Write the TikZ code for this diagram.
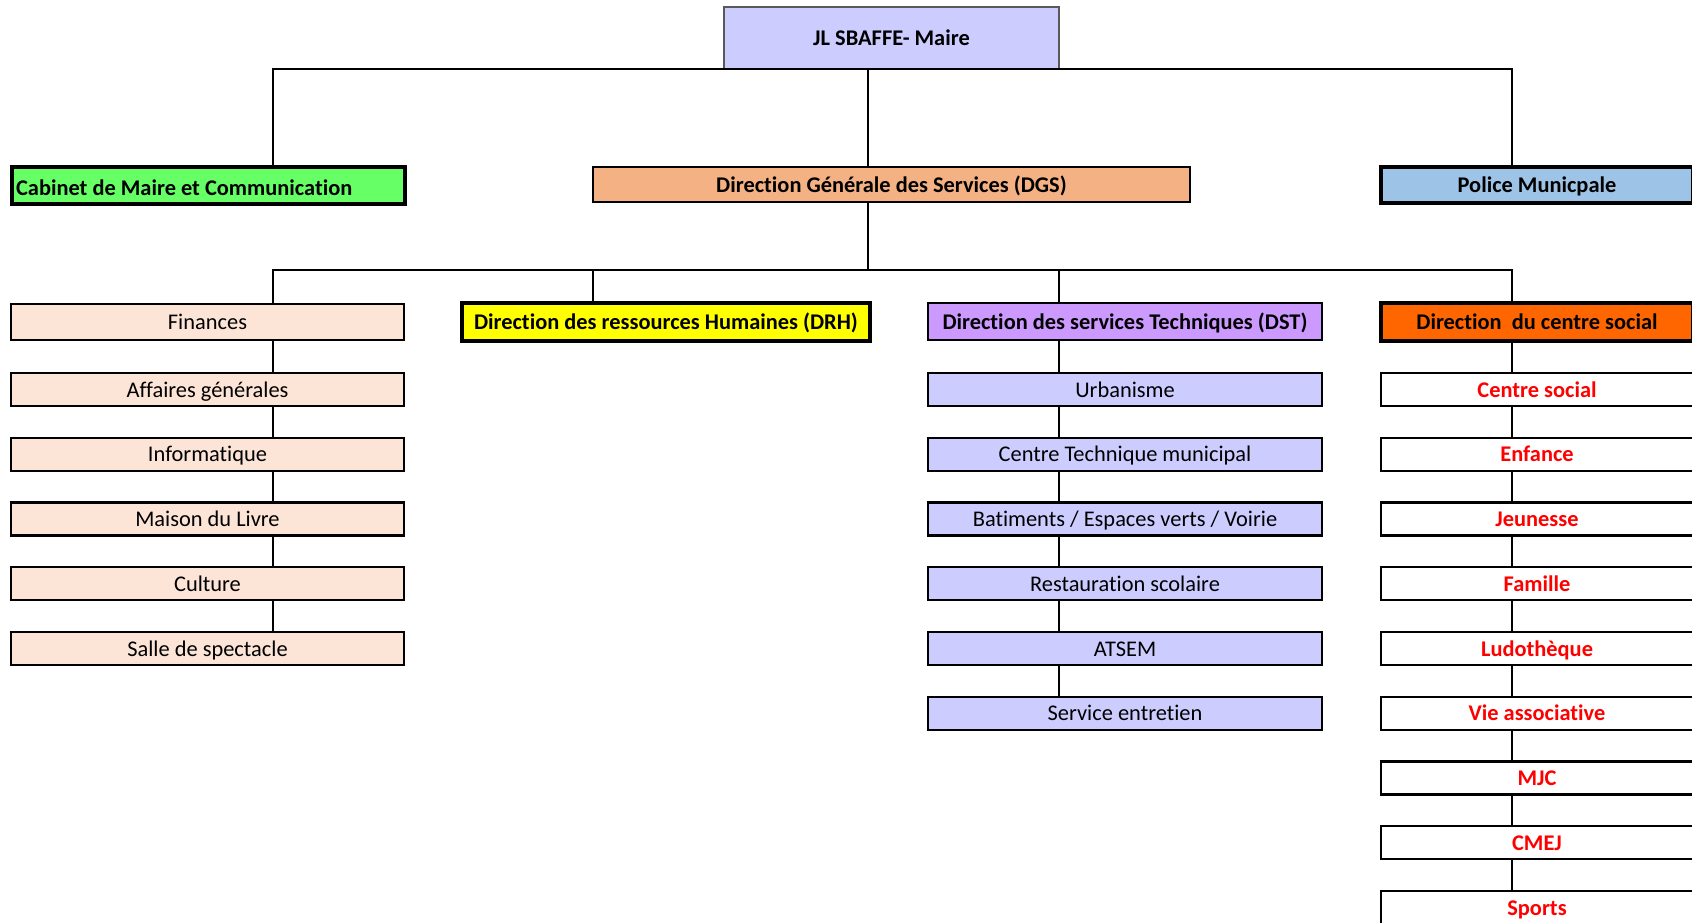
\documentclass[tikz,border=0pt]{standalone}
\usepackage{fontspec}
\setmainfont{Carlito}[Ligatures=NoCommon]
\definecolor{cMayor}{HTML}{CCCCFF}
\definecolor{cCab}{HTML}{66FF66}
\definecolor{cDGS}{HTML}{F4B183}
\definecolor{cPol}{HTML}{9DC3E6}
\definecolor{cFin}{HTML}{FCE4D6}
\definecolor{cDRH}{HTML}{FFFF00}
\definecolor{cDST}{HTML}{CC99FF}
\definecolor{cDSTc}{HTML}{CCCCFF}
\definecolor{cCSD}{HTML}{FF6600}
\definecolor{cRed}{HTML}{FF0000}
\begin{document}
\begin{tikzpicture}[x=1pt,y=-1pt,
  base/.style={rectangle, draw=black, inner sep=0pt, font=\fontsize{22.4}{26}\selectfont},
  mayorbox/.style={base, draw=black!65, line width=1.4pt, fill=cMayor, font=\fontsize{22.4}{26}\selectfont\bfseries},
  headbox/.style={base, line width=3.2pt, text height=20.5pt, text depth=5pt, font=\fontsize{22.4}{26}\selectfont\bfseries},
  midbox/.style={base, line width=2.6pt, text height=20.5pt, text depth=5pt, font=\fontsize{22.4}{26}\selectfont\bfseries},
  leafbox/.style={base, line width=2.2pt, text height=19.6pt, text depth=4.6pt},
  redleaf/.style={base, line width=2.2pt, text height=19.6pt, text depth=4.6pt, fill=white, text=cRed, font=\fontsize{22.4}{26}\selectfont\bfseries},
  conn/.style={draw=black, line width=2.2pt},
  topconn/.style={draw=black, line width=2.8pt}]
\useasboundingbox (0,0) rectangle (1692,922);
\clip (0,0) rectangle (1692,922);
\fill[white] (0,0) rectangle (1692,922);

% bus x positions
\coordinate (xa) at (273,0);
\coordinate (xb) at (593,0);
\coordinate (xc) at (868,0);
\coordinate (xd) at (1059,0);
\coordinate (xe) at (1512,0);
\coordinate (bus1) at (868,69);
\coordinate (bus2) at (868,270);

% top level
\node[mayorbox, minimum width=335pt, minimum height=62pt] (mayor) at (891.5,38) {JL SBAFFE- Maire};
\node[headbox, fill=cCab, minimum width=393pt, minimum height=37pt,
  label={[anchor=west, inner sep=0pt, xshift=5.5pt, yshift=-2pt, font=\fontsize{22.4}{26}\selectfont\bfseries]west:Cabinet de Maire et Communication}] (cab) at (208.5,185.5) {};
\node[midbox, fill=cDGS, minimum width=597pt, minimum height=35pt] (dgs) at (891.5,184.5) {Direction Générale des Services (DGS)};
\node[headbox, fill=cPol, minimum width=312pt, minimum height=36pt] (pol) at (1537,185) {Police Municpale};

% second level
\node[leafbox, fill=cFin, minimum width=393pt, minimum height=36pt] (fin) at (207.5,322) {Finances};
\node[headbox, fill=cDRH, minimum width=408pt, minimum height=38pt] (drh) at (666,322) {Direction des ressources Humaines (DRH)};
\node[midbox, fill=cDST, minimum width=394pt, minimum height=37pt] (dst) at (1125,321.5) {Direction des services Techniques (DST)};
\node[headbox, fill=cCSD, minimum width=312pt, minimum height=38pt] (csd) at (1537,322) {Direction\ \ du centre social};

% left column
\foreach \i/\n/\t in {1/aff/{Affaires générales},2/inf/{Informatique},3/mai/{Maison du Livre},4/cul/{Culture},5/sal/{Salle de spectacle}}
  \node[leafbox, fill=cFin, minimum width=393pt, minimum height=33pt] (\n) at (207.5,{373+64.75*(\i-1)+16.5}) {\t};

% DST column
\foreach \i/\n/\t in {1/urb/{Urbanisme},2/ctm/{Centre Technique municipal},3/bat/{Batiments / Espaces verts / Voirie},4/res/{Restauration scolaire},5/ats/{ATSEM},6/ent/{Service entretien}}
  \node[leafbox, fill=cDSTc, minimum width=394pt, minimum height=33pt] (\n) at (1125,{373+64.75*(\i-1)+16.5}) {\t};

% centre social column
\foreach \i/\n/\t in {1/cs1/{Centre social},2/cs2/{Enfance},3/cs3/{Jeunesse},4/cs4/{Famille},5/cs5/{Ludothèque},6/cs6/{Vie associative},7/cs7/{MJC},8/cs8/{CMEJ},9/cs9/{Sports}}
  \node[redleaf, minimum width=312pt, minimum height=33pt] (\n) at (1537,{373+64.75*(\i-1)+16.5}) {\t};

% connectors
\draw[topconn] (cab.north -| xa) |- (bus1) -| (pol.north -| xe);
\draw[conn] (mayor.south -| xc) -- (dgs.north -| xc);
\draw[conn] (dgs.south -| xc) -- (bus2);
\draw[conn] (fin.north -| xa) |- (bus2) -| (csd.north -| xe);
\draw[conn] (drh.north -| xb) -- (xb |- bus2);
\draw[conn] (dst.north -| xd) -- (xd |- bus2);

\draw[conn] (fin.south -| xa) -- (aff.north -| xa);
\draw[conn] (aff.south -| xa) -- (inf.north -| xa);
\draw[conn] (inf.south -| xa) -- (mai.north -| xa);
\draw[conn] (mai.south -| xa) -- (cul.north -| xa);
\draw[conn] (cul.south -| xa) -- (sal.north -| xa);

\draw[conn] (dst.south -| xd) -- (urb.north -| xd);
\draw[conn] (urb.south -| xd) -- (ctm.north -| xd);
\draw[conn] (ctm.south -| xd) -- (bat.north -| xd);
\draw[conn] (bat.south -| xd) -- (res.north -| xd);
\draw[conn] (res.south -| xd) -- (ats.north -| xd);
\draw[conn] (ats.south -| xd) -- (ent.north -| xd);

\draw[conn] (csd.south -| xe) -- (cs1.north -| xe);
\draw[conn] (cs1.south -| xe) -- (cs2.north -| xe);
\draw[conn] (cs2.south -| xe) -- (cs3.north -| xe);
\draw[conn] (cs3.south -| xe) -- (cs4.north -| xe);
\draw[conn] (cs4.south -| xe) -- (cs5.north -| xe);
\draw[conn] (cs5.south -| xe) -- (cs6.north -| xe);
\draw[conn] (cs6.south -| xe) -- (cs7.north -| xe);
\draw[conn] (cs7.south -| xe) -- (cs8.north -| xe);
\draw[conn] (cs8.south -| xe) -- (cs9.north -| xe);
\end{tikzpicture}
\end{document}
